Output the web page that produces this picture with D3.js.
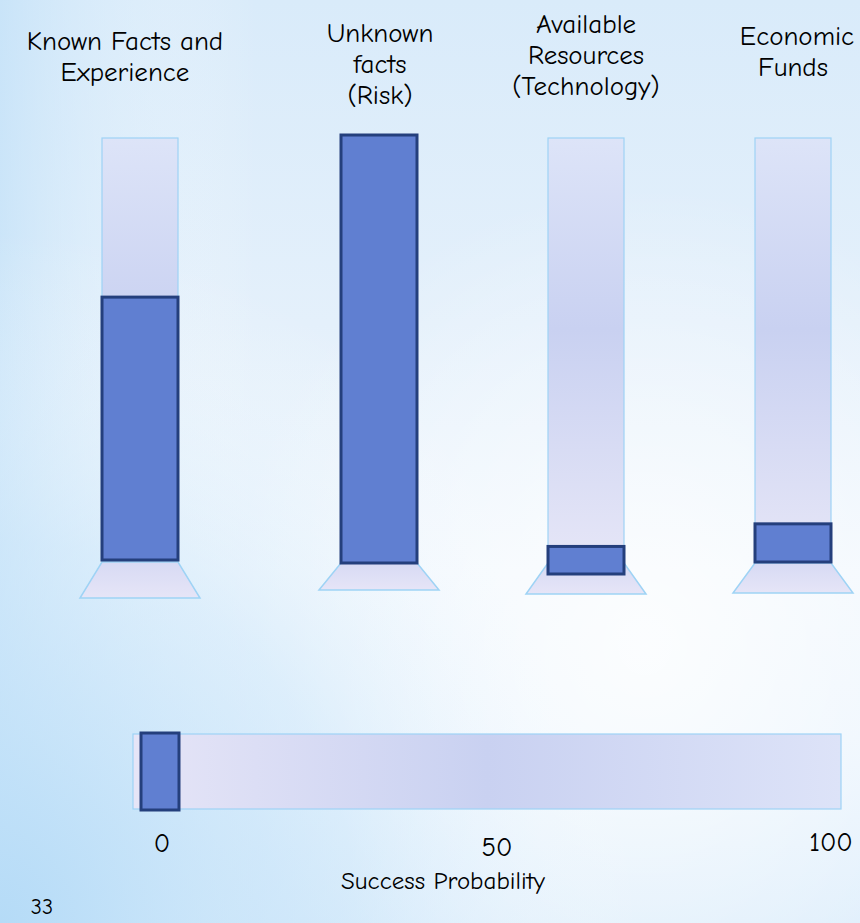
<!DOCTYPE html>
<html><head><meta charset="utf-8">
<script src="https://cdn.jsdelivr.net/npm/d3@7/dist/d3.min.js"></script>
<style>html,body{margin:0;padding:0;overflow:hidden;background:#e6f2fc}</style>
</head><body>
<svg id="c" width="860" height="923"></svg>
<script>
// ---- data ----
const categories = ["Known Facts and Experience", "Unknown facts (Risk)", "Available Resources (Technology)", "Economic Funds"];
const titleLines = [["Known Facts and", "Experience"], ["Unknown", "facts", "(Risk)"], ["Available", "Resources", "(Technology)"], ["Economic", "Funds"]];
const levels = [62, 100, 6.5, 9];
const successLabel = "Success Probability";
const successValue = [0];
const successTicks = [0, 50, 100];
const slideNumber = "33";

// ---- layout ----
const W = 860, H = 923;
const FONT = "'Comic Sans MS','Comic Neue','Noto Sans',sans-serif";
const svg = d3.select("#c");
const defs = svg.append("defs");

// background
const bg = defs.append("linearGradient").attr("id", "bg").attr("x1", 0).attr("y1", 0).attr("x2", 0).attr("y2", 1);
[[0, "#d9ebfa"], [0.35, "#e4f0fb"], [0.62, "#f0f7fd"], [0.8, "#eaf4fd"], [1, "#dcedfb"]].forEach(s => bg.append("stop").attr("offset", s[0]).attr("stop-color", s[1]));
const bgl = defs.append("linearGradient").attr("id", "bgl").attr("x1", 0).attr("y1", 0).attr("x2", 1).attr("y2", 0);
bgl.append("stop").attr("offset", 0).attr("stop-color", "#c2e1f8").attr("stop-opacity", 0.7);
bgl.append("stop").attr("offset", 0.3).attr("stop-color", "#ffffff").attr("stop-opacity", 0);
const bgr = defs.append("radialGradient").attr("id", "bgr").attr("cx", 0).attr("cy", 1).attr("r", 0.75);
bgr.append("stop").attr("offset", 0).attr("stop-color", "#b5dbf7").attr("stop-opacity", 1);
bgr.append("stop").attr("offset", 0.55).attr("stop-color", "#cbe6fa").attr("stop-opacity", 0.5);
bgr.append("stop").attr("offset", 1).attr("stop-color", "#ffffff").attr("stop-opacity", 0);
const bgw = defs.append("radialGradient").attr("id", "bgw").attr("cx", 0.75).attr("cy", 0.7).attr("r", 0.5);
bgw.append("stop").attr("offset", 0).attr("stop-color", "#ffffff").attr("stop-opacity", 0.8);
bgw.append("stop").attr("offset", 1).attr("stop-color", "#ffffff").attr("stop-opacity", 0);
svg.append("rect").attr("width", W).attr("height", H).attr("fill", "url(#bg)");
svg.append("rect").attr("width", W).attr("height", H).attr("fill", "url(#bgw)");
svg.append("rect").attr("width", W).attr("height", H).attr("fill", "url(#bgl)");
svg.append("rect").attr("width", W).attr("height", H).attr("fill", "url(#bgr)");

// track gradients
const tg = defs.append("linearGradient").attr("id", "tg").attr("x1", 0).attr("y1", 0).attr("x2", 0).attr("y2", 1);
[[0, "#dde4f8"], [0.45, "#c9d1f1"], [1, "#e6e6f7"]].forEach(s => tg.append("stop").attr("offset", s[0]).attr("stop-color", s[1]));
const hg = defs.append("linearGradient").attr("id", "hg").attr("x1", 0).attr("y1", 0).attr("x2", 1).attr("y2", 0);
[[0, "#e6e5f7"], [0.5, "#c9d1f1"], [1, "#dde3f8"]].forEach(s => hg.append("stop").attr("offset", s[0]).attr("stop-color", s[1]));
const pg = defs.append("linearGradient").attr("id", "pg").attr("x1", 0).attr("y1", 0).attr("x2", 0).attr("y2", 1);
[[0, "#d7daf4"], [1, "#e6e5f7"]].forEach(s => pg.append("stop").attr("offset", s[0]).attr("stop-color", s[1]));

const x = d3.scaleOrdinal().domain(categories).range([140, 379, 586, 793]);
const y = d3.scaleLinear().domain([0, 100]).range([562, 138]);
const bw = 76, baseHalf = 60;
const dy = [-2, 1, 12, 0];           // small per-stand vertical offsets of the level boxes
const pedTop = [562, 563, 563, 563];
const pedBot = [598, 590, 594, 593];

const g = svg.append("g");
// tracks
g.selectAll("rect.track").data(categories).join("rect").attr("class", "track")
  .attr("x", d => x(d) - bw / 2).attr("y", y(100)).attr("width", bw).attr("height", (d, i) => pedTop[i] - y(100))
  .attr("fill", "url(#tg)").attr("stroke", "#9ed3f5").attr("stroke-width", 1.2);
// pedestals
g.selectAll("path.ped").data(categories).join("path").attr("class", "ped")
  .attr("d", (d, i) => `M${x(d) - bw / 2},${pedTop[i]} L${x(d) + bw / 2},${pedTop[i]} L${x(d) + baseHalf},${pedBot[i]} L${x(d) - baseHalf},${pedBot[i]} Z`)
  .attr("fill", "url(#pg)").attr("stroke", "#9ed3f5").attr("stroke-width", 1.5);
// level bars
g.selectAll("rect.lvl").data(categories).join("rect").attr("class", "lvl")
  .attr("x", d => x(d) - bw / 2).attr("y", (d, i) => y(levels[i]) + dy[i] - (levels[i] >= 100 ? 4 : 0))
  .attr("width", bw).attr("height", (d, i) => y(0) - y(levels[i]) + (levels[i] >= 100 ? 4 : 0))
  .attr("fill", "#607fd1").attr("stroke", "#243f7c").attr("stroke-width", 3);

// titles
const lh = 31;
const titleCx = [125, 380, 586, 797];
const titleY = [50, 42, 33, 45];
categories.forEach((c, i) => {
  const t = svg.append("text").attr("text-anchor", "middle").attr("font-family", FONT).attr("font-size", 27).attr("fill", "#000");
  titleLines[i].forEach((l, k) => t.append("tspan").attr("x", titleCx[i] - (i === 3 && k === 1 ? 4 : 0)).attr("y", titleY[i] + k * lh).text(l));
});

// horizontal success bar
const sx = d3.scaleLinear().domain([0, 100]).range([160, 826]);
const trackL = 133, trackR = 841, trackT = 734, trackB = 809;
svg.append("rect").attr("x", trackL).attr("y", trackT).attr("width", trackR - trackL).attr("height", trackB - trackT)
  .attr("fill", "url(#hg)").attr("stroke", "#9ed3f5").attr("stroke-width", 1.2);
svg.selectAll("rect.succ").data(successValue).join("rect").attr("class", "succ")
  .attr("x", d => sx(d) - 19).attr("y", trackT - 1).attr("width", 38).attr("height", trackB - trackT + 2)
  .attr("fill", "#607fd1").attr("stroke", "#243f7c").attr("stroke-width", 3);

const tickY = [852, 856, 851];
svg.selectAll("text.tick").data(successTicks).join("text").attr("class", "tick")
  .attr("x", (d, i) => sx(d) + [2, 4, 5][i]).attr("y", (d, i) => tickY[i])
  .attr("text-anchor", "middle").attr("font-family", FONT).attr("font-size", 27).attr("fill", "#000")
  .text(d => d);

svg.append("text").attr("x", 443).attr("y", 889).attr("text-anchor", "middle")
  .attr("font-family", FONT).attr("font-size", 25).attr("fill", "#000").text(successLabel);
svg.append("text").attr("x", 42).attr("y", 914).attr("text-anchor", "middle")
  .attr("font-family", FONT).attr("font-size", 22).attr("fill", "#000").text(slideNumber);
</script>
</body></html>
